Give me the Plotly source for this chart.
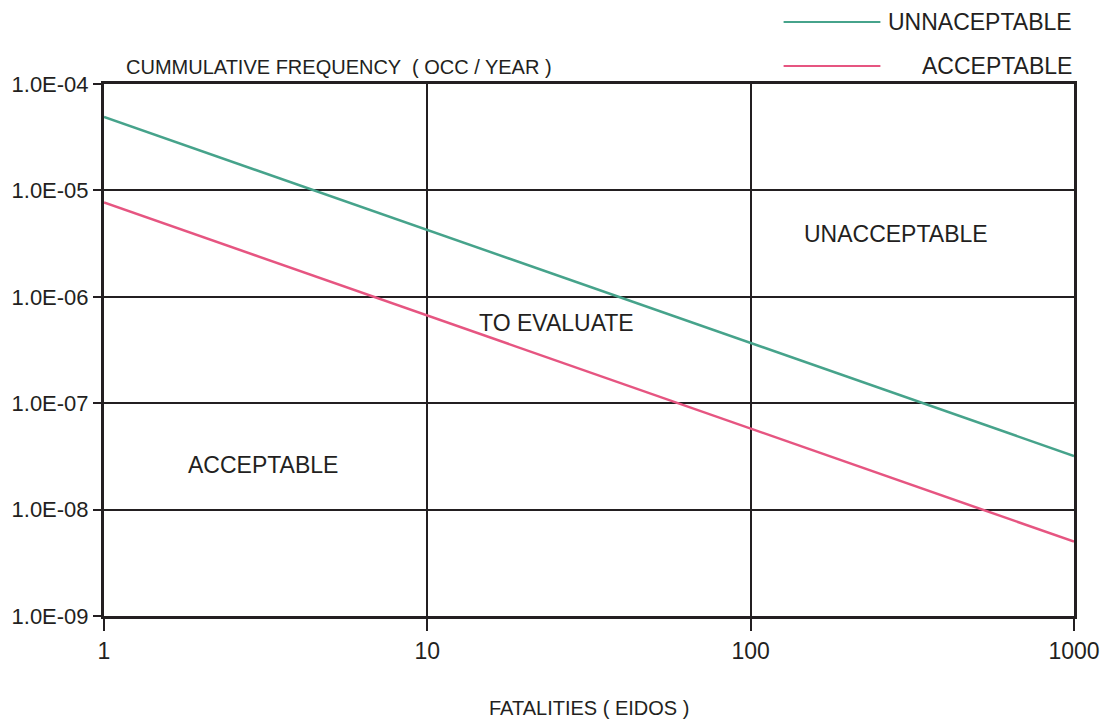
import math
import plotly.graph_objects as go

# Societal risk criterion (F-N curve) limits
fatalities = [1, 10, 100, 1000]
unacceptable_limit = [4.9e-5, 4.25e-6, 3.68e-7, 3.19e-8]
acceptable_limit = [7.7e-6, 6.65e-7, 5.78e-8, 5.0e-9]

y_ticks = [1e-9, 1e-8, 1e-7, 1e-6, 1e-5, 1e-4]
y_tick_text = ["1.0E-09", "1.0E-08", "1.0E-07", "1.0E-06", "1.0E-05", "1.0E-04"]
x_ticks = [1, 10, 100, 1000]
x_tick_text = ["1", "10", "100", "1000"]

# Region labels and their (fatalities, frequency) anchors
region_names = ["UNACCEPTABLE", "TO EVALUATE", "ACCEPTABLE"]
region_x = [282, 25, 3.1]
region_y = [10 ** -5.41, 10 ** -6.25, 10 ** -7.58]

GREEN = "#46a38b"
PINK = "#e65581"
INK = "#231f21"
FONT = "Liberation Sans, Arial, sans-serif"

fig = go.Figure()
fig.add_trace(go.Scatter(x=fatalities, y=unacceptable_limit, mode="lines",
                         line=dict(color=GREEN, width=2.5), name="UNNACEPTABLE",
                         showlegend=False))
fig.add_trace(go.Scatter(x=fatalities, y=acceptable_limit, mode="lines",
                         line=dict(color=PINK, width=2.5), name="ACCEPTABLE",
                         showlegend=False))

# Annotations on log axes take log10 positions
for text, xv, yv in zip(region_names, region_x, region_y):
    fig.add_annotation(x=math.log10(xv), y=math.log10(yv), text=text, showarrow=False,
                       font=dict(family=FONT, size=23, color=INK))

# Axis titles
fig.add_annotation(xref="paper", yref="paper", x=0.021, y=1.0, yshift=17,
                   xanchor="left", yanchor="middle", showarrow=False,
                   text="CUMMULATIVE FREQUENCY  ( OCC / YEAR )",
                   font=dict(family=FONT, size=20, color=INK))
fig.add_annotation(xref="paper", yref="paper", x=0.5, y=0, yshift=-92,
                   xanchor="center", yanchor="middle", showarrow=False,
                   text="FATALITIES ( EIDOS )",
                   font=dict(family=FONT, size=20, color=INK))

# Legend drawn above the frame
legend_items = [("UNNACEPTABLE", GREEN, 22), ("ACCEPTABLE", PINK, 66)]
for text, color, ypix in legend_items:
    yp = 1 + (84 - ypix) / 532
    fig.add_shape(type="line", xref="paper", yref="paper",
                  x0=(783 - 102) / 972, x1=(880 - 102) / 972, y0=yp, y1=yp,
                  line=dict(color=color, width=2))
    fig.add_annotation(xref="paper", yref="paper", x=1.0, y=yp,
                       xanchor="right", yanchor="middle", showarrow=False,
                       text=text, font=dict(family=FONT, size=23, color=INK))

fig.update_xaxes(type="log", range=[0, 3], tickvals=x_ticks, ticktext=x_tick_text,
                 showgrid=True, gridcolor=INK, gridwidth=2,
                 showline=True, linecolor=INK, linewidth=3, mirror=True,
                 ticks="outside", ticklen=12, tickwidth=2, tickcolor=INK,
                 tickfont=dict(family=FONT, size=23, color=INK), zeroline=False)
fig.update_yaxes(type="log", range=[-9, -4], tickvals=y_ticks, ticktext=y_tick_text,
                 showgrid=True, gridcolor=INK, gridwidth=2,
                 showline=True, linecolor=INK, linewidth=3, mirror=True,
                 ticks="outside", ticklen=8, tickwidth=2, tickcolor=INK,
                 tickfont=dict(family=FONT, size=22, color=INK), zeroline=False)

fig.update_layout(width=1112, height=722,
                  margin=dict(l=102, r=38, t=84, b=106),
                  paper_bgcolor="white", plot_bgcolor="white",
                  showlegend=False)

fig.write_html("out.html")
